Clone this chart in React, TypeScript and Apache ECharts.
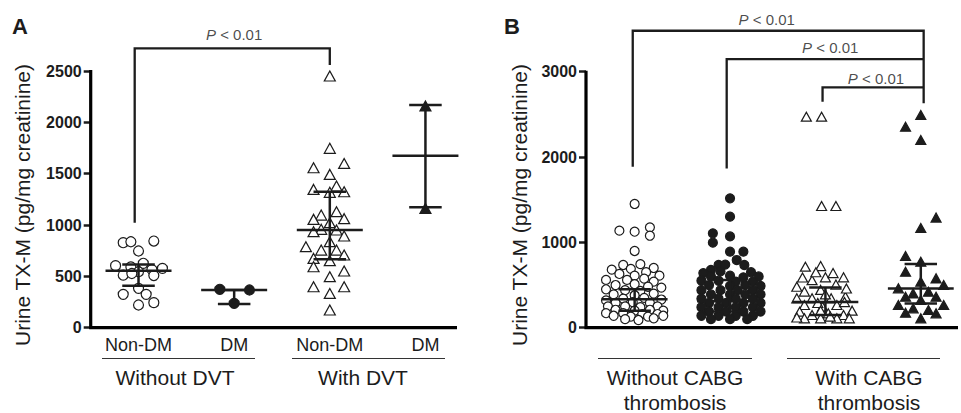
import React, { useEffect, useRef } from 'react';
import * as echarts from 'echarts';

const FONT = '"Liberation Sans", Arial, Helvetica, sans-serif';
const INK = '#1c1c1c';

// category labels (x positions 0..3 within each panel)
const categoryLabels = ['Non-DM', 'DM', 'Non-DM', 'DM'];
const yAxisTitle = 'Urine TX-M (pg/mg creatinine)';
const pLabel = '{i|P} < 0.01';

// axis ranges
const aXRange = [-0.5, 3.33];
const bXRange = [-0.51, 3.39];
const aYMax = 2500;
const bYMax = 3000;

// ---- Panel A: points as [jitter offset, value] ----
const aNonDmNoDvt = [
  [-0.16, 828], [-0.08, 837], [0.16, 844], [0, 747], [-0.24, 604], [0.05, 627], [-0.08, 592],
  [0.25, 578], [0.14, 566], [-0.16, 512], [0, 545], [0.16, 508], [-0.07, 528], [0, 383],
  [-0.16, 325], [0.08, 325], [0.16, 244], [0, 221],
];
const aDmNoDvt = [[-0.15, 374], [0.16, 367], [0, 237]];
const aNonDmDvt = [
  [0, 2451], [0, 1747], [-0.17, 1558], [0.15, 1600], [0, 1493], [0.07, 1380], [-0.17, 1347],
  [0, 1318], [0.15, 1324], [0.07, 1130], [-0.09, 1097], [-0.17, 1055], [0.15, 1062], [0, 1023],
  [-0.09, 958], [-0.17, 935], [0.07, 951], [0.15, 893], [0, 838], [-0.25, 789], [-0.09, 756],
  [0.07, 756], [0.15, 708], [-0.17, 675], [0, 653], [-0.17, 594], [0.15, 552], [0, 497],
  [-0.17, 399], [0.15, 399], [0, 334], [0, 172],
];
const aDmDvt = [[0, 2159], [0, 1162]];
// [median, lower, upper]
const aStats = [[555, 409, 615], [367, 232, 367], [951, 666, 1324], [1675, 1172, 2169]];

// ---- Panel B ----
const bNonDmNoCabg = [
  [0, 1450], [-0.16, 1137], [0, 1125], [0.16, 1176], [0.16, 1078], [0, 899],
  [-0.12, 735], [0.06, 745], [0.2, 700], [-0.24, 680], [-0.04, 690], [0.12, 650],
  [-0.16, 630], [0, 610], [0.26, 610], [-0.3, 560], [-0.08, 560], [0.1, 575], [0.2, 540],
  [-0.2, 500], [0, 510], [0.14, 480], [0.28, 470], [-0.3, 450], [-0.1, 440], [0.06, 430],
  [-0.22, 390], [0, 380], [0.2, 400], [-0.12, 340], [0.1, 350], [0.28, 330], [-0.3, 320],
  [-0.2, 290], [-0.02, 300], [0.16, 290], [-0.28, 250], [-0.1, 250], [0.06, 240], [0.24, 250],
  [-0.2, 210], [0, 200], [0.16, 210], [0.3, 200], [-0.3, 170], [-0.12, 170], [0.08, 160],
  [0.24, 160], [-0.22, 140], [-0.04, 130], [0.14, 130], [0.3, 140], [-0.1, 100], [0.04, 90],
  [0.2, 110],
];
const bDmNoCabg = [
  [0, 1516], [0, 1301], [-0.18, 1106], [-0.18, 996], [0, 1070], [0, 891], [0.14, 891],
  [0.07, 793], [0.15, 735], [-0.12, 735], [-0.2, 676], [-0.05, 740],
  [-0.28, 640], [-0.1, 660], [0.22, 650], [0.3, 600], [-0.2, 600], [0, 610], [0.14, 590],
  [-0.3, 550], [-0.12, 550], [0.06, 540], [0.24, 540], [-0.22, 500], [0, 490], [0.16, 500],
  [0.32, 490], [-0.3, 440], [-0.1, 440], [0.08, 440], [0.24, 440], [-0.2, 390], [0, 390],
  [0.16, 390], [0.32, 390], [-0.3, 340], [-0.12, 340], [0.06, 340], [0.24, 340], [-0.22, 290],
  [-0.04, 290], [0.14, 290], [0.32, 290], [-0.3, 240], [-0.12, 240], [0.06, 240], [0.24, 240],
  [-0.22, 190], [-0.04, 190], [0.14, 190], [0.32, 190], [-0.3, 140], [-0.12, 140], [0.06, 140],
  [0.24, 140], [-0.2, 100], [0, 100], [0.18, 100],
];
const bNonDmCabg = [
  [-0.2, 2473], [-0.04, 2473], [-0.04, 1426], [0.11, 1426],
  [-0.21, 715], [-0.05, 722], [0.19, 590], [-0.24, 588], [-0.14, 557], [0, 590], [0.11, 505],
  [-0.22, 423], [-0.05, 443], [-0.14, 344], [0.06, 344], [0.21, 364], [-0.3, 344], [-0.22, 266],
  [-0.03, 247], [0.12, 266], [-0.27, 188], [-0.14, 149], [0.03, 168], [0.19, 149], [-0.22, 110],
  [-0.05, 110], [0.12, 110], [-0.1, 650], [0.08, 640], [-0.3, 480], [0.22, 460], [0, 390],
  [-0.08, 290], [0.2, 300], [0.28, 200], [-0.05, 200], [0.05, 130], [-0.3, 120], [0.25, 110],
];
const bDmCabg = [
  [0, 2493], [-0.16, 2356], [0, 2200], [0.16, 1290], [0, 1168], [-0.16, 840], [0, 774],
  [-0.16, 656], [0.16, 578], [0, 539], [-0.235, 461], [0.24, 500], [-0.16, 363], [-0.08, 402],
  [0.08, 422], [0.16, 363], [0, 324], [-0.235, 266], [0.24, 266], [-0.08, 227], [0.08, 207],
  [-0.16, 176], [0.16, 168], [0, 110],
];
const bStats = [[333, 200, 450], [310, 190, 560], [300, 150, 470], [460, 285, 746]];

// significance brackets (x in category units, y in data units)
const aBrackets = [[[-0.04, 1023], [-0.04, 2721], [2, 2721], [2, 2558]]];
const aPText = [[1, 2860]];
const bBrackets = [
  [[-0.02, 1887], [-0.02, 3480], [3.03, 3480], [3.03, 2629]],
  [[0.965, 1867], [0.965, 3148], [3.03, 3148]],
  [[1.97, 2648], [1.97, 2816], [3.03, 2816]],
];
const bPText = [[1.385, 3606], [2.05, 3278], [2.53, 2926]];

// plot rectangles (layout)
const gridA = { left: 90.7, top: 71, width: 366.3, height: 256.7 };
const gridB = { left: 586, top: 71.7, width: 374, height: 256 };

function scatter(gi: number, cat: number, pts: number[][], symbol: string, filled: boolean, size: any) {
  return {
    type: 'scatter',
    xAxisIndex: gi,
    yAxisIndex: gi,
    symbol,
    symbolSize: size,
    clip: false,
    silent: true,
    z: 3,
    itemStyle: {
      color: filled ? INK : '#ffffff',
      borderColor: INK,
      borderWidth: 1.2,
      opacity: 1,
    },
    data: pts.map(([o, v]) => [cat + o, v]),
  };
}

function linesSeries(gi: number, data: any[], width: number, z = 5) {
  return {
    type: 'lines',
    coordinateSystem: 'cartesian2d',
    xAxisIndex: gi,
    yAxisIndex: gi,
    polyline: true,
    clip: false,
    silent: true,
    z,
    lineStyle: { color: INK, width, opacity: 1 },
    data,
  };
}

function statLines(gi: number, stats: number[][]) {
  const data: any[] = [];
  stats.forEach(([med, lo, hi], cat) => {
    data.push({ coords: [[cat - 0.345, med], [cat + 0.345, med]] });
    data.push({ coords: [[cat - 0.17, lo], [cat + 0.17, lo]] });
    data.push({ coords: [[cat - 0.17, hi], [cat + 0.17, hi]] });
    data.push({ coords: [[cat, lo], [cat, hi]] });
  });
  return linesSeries(gi, data, 2.5);
}

function brackets(gi: number, list: number[][][]) {
  return linesSeries(gi, list.map((c) => ({ coords: c })), 2.3);
}

// L-shaped axis frame drawn through the axes' scales
function frameSeries(gi: number, xr: number[], yMax: number) {
  return {
    type: 'custom',
    xAxisIndex: gi,
    yAxisIndex: gi,
    clip: false,
    silent: true,
    z: 50,
    zlevel: 1,
    data: [[xr[0], 0, xr[1], yMax]],
    renderItem: (params: any, api: any) => {
      const o = api.coord([api.value(0), 0]);
      const r = api.coord([api.value(2), 0]);
      const t = api.coord([api.value(0), api.value(3)]);
      return {
        type: 'polyline',
        shape: { points: [[o[0], t[1] - 1], [o[0], o[1]], [r[0], o[1]]] },
        style: { stroke: '#000000', lineWidth: 3.2, fill: 'none', lineJoin: 'miter' },
      };
    },
  };
}

function pTexts(gi: number, pts: number[][]) {
  return {
    type: 'scatter',
    xAxisIndex: gi,
    yAxisIndex: gi,
    symbolSize: 0,
    clip: false,
    silent: true,
    z: 6,
    label: {
      show: true,
      position: 'inside',
      formatter: pLabel,
      color: INK,
      fontSize: 15,
      fontFamily: FONT,
      rich: { i: { fontStyle: 'italic', fontSize: 15, fontFamily: FONT, color: INK } },
    },
    data: pts,
  };
}

function xAxis(gi: number, range: number[]) {
  return {
    type: 'value',
    gridIndex: gi,
    position: 'bottom',
    min: range[0],
    max: range[1],
    interval: 0.5,
    axisLine: { show: false, onZero: false },
    axisTick: { show: false },
    splitLine: { show: false },
    axisLabel: {
      show: true,
      margin: 8,
      fontSize: 18,
      color: INK,
      fontFamily: FONT,
      showMinLabel: true,
      showMaxLabel: true,
      formatter: (v: number) => {
        const r = Math.round(v);
        if (Math.abs(v - r) > 1e-6 || r < 0 || r > 3) return '';
        return categoryLabels[r];
      },
    },
  };
}

function yAxis(gi: number, max: number, interval: number) {
  return {
    type: 'value',
    gridIndex: gi,
    position: 'left',
    min: 0,
    max,
    interval,
    axisLine: { show: false, onZero: false },
    axisTick: { show: true, length: 7, lineStyle: { color: INK, width: 2.5 } },
    splitLine: { show: false },
    axisLabel: {
      margin: 9,
      fontSize: 16,
      fontWeight: 'bold',
      color: INK,
      fontFamily: FONT,
      formatter: (v: number) => String(v),
    },
  };
}

function yTitle(x: number) {
  return {
    type: 'text',
    silent: true,
    x,
    y: 205,
    rotation: Math.PI / 2,
    style: {
      text: yAxisTitle,
      textAlign: 'center',
      textVerticalAlign: 'middle',
      fontSize: 21,
      fontFamily: FONT,
      fill: INK,
    },
  };
}

function groupText(x: number, text: string) {
  return {
    type: 'text',
    silent: true,
    style: {
      x,
      y: text.indexOf('\n') >= 0 ? 389.5 : 377,
      text,
      textAlign: 'center',
      textVerticalAlign: 'middle',
      fontSize: 21,
      lineHeight: 25,
      fontFamily: FONT,
      fill: INK,
    },
  };
}

function hLine(x1: number, x2: number, y: number) {
  return {
    type: 'line',
    silent: true,
    shape: { x1, y1: y, x2, y2: y },
    style: { stroke: '#333', lineWidth: 1.2 },
  };
}

export default function App() {
  const ref = useRef<HTMLDivElement>(null);
  useEffect(() => {
    if (!ref.current) return;
    const chart = echarts.init(ref.current, undefined, { renderer: 'svg' });
    const option: any = {
      animation: false,
      backgroundColor: '#ffffff',
      textStyle: { fontFamily: FONT },
      grid: [
        { ...gridA, show: false, containLabel: false },
        { ...gridB, show: false, containLabel: false },
      ],
      xAxis: [xAxis(0, aXRange), xAxis(1, bXRange)],
      yAxis: [yAxis(0, aYMax, 500), yAxis(1, bYMax, 1000)],
      series: [
        scatter(0, 0, aNonDmNoDvt, 'circle', false, 10),
        scatter(0, 1, aDmNoDvt, 'circle', true, 10),
        scatter(0, 2, aNonDmDvt, 'triangle', false, [11, 10]),
        scatter(0, 3, aDmDvt, 'triangle', true, [11, 10]),
        statLines(0, aStats),
        brackets(0, aBrackets),
        pTexts(0, aPText),
        frameSeries(0, aXRange, aYMax),
        scatter(1, 0, bNonDmNoCabg, 'circle', false, 9),
        scatter(1, 1, bDmNoCabg, 'circle', true, 9),
        scatter(1, 2, bNonDmCabg, 'triangle', false, [10, 9]),
        scatter(1, 3, bDmCabg, 'triangle', true, [10, 9]),
        statLines(1, bStats),
        brackets(1, bBrackets),
        pTexts(1, bPText),
        frameSeries(1, bXRange, bYMax),
      ],
      graphic: [
        {
          type: 'text', silent: true,
          style: { x: 12, y: 15, text: 'A', fontSize: 22, fontWeight: 'bold', fontFamily: FONT, fill: INK },
        },
        {
          type: 'text', silent: true,
          style: { x: 504, y: 15, text: 'B', fontSize: 22, fontWeight: 'bold', fontFamily: FONT, fill: INK },
        },
        yTitle(22),
        yTitle(519),
        hLine(102, 255, 358.5),
        hLine(292, 445, 358.5),
        hLine(598, 752, 358.5),
        hLine(787, 940, 358.5),
        groupText(175, 'Without DVT'),
        groupText(363, 'With DVT'),
        groupText(675, 'Without CABG\nthrombosis'),
        groupText(869, 'With CABG\nthrombosis'),
      ],
    };
    chart.setOption(option);
    return () => chart.dispose();
  }, []);
  return (
    <div
      ref={ref}
      style={{ position: 'fixed', left: 0, top: 0, width: 961, height: 413, background: '#fff' }}
    />
  );
}
